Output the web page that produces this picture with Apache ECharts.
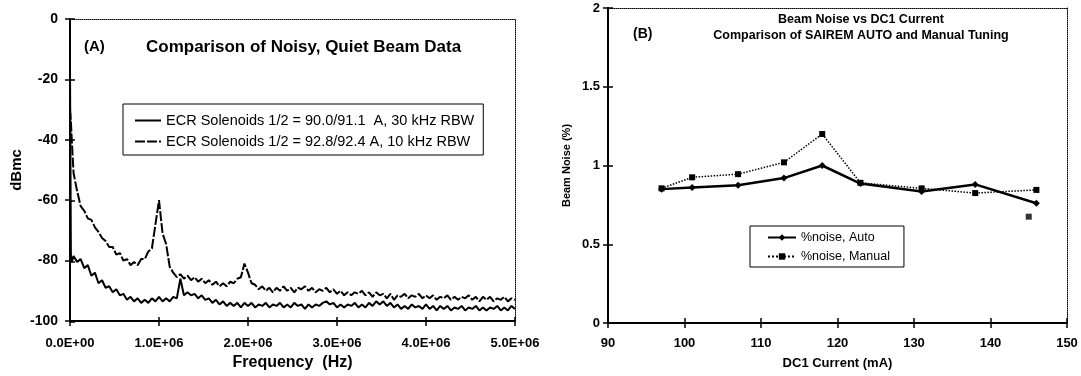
<!DOCTYPE html>
<html>
<head>
<meta charset="utf-8">
<script src="https://cdn.jsdelivr.net/npm/echarts@6/dist/echarts.min.js"></script>
<style>
  html, body { margin: 0; padding: 0; background: #fff; }
  #chart { width: 1081px; height: 376px; }
</style>
</head>
<body>
<div id="chart"></div>
<script>
// (A) spectrum traces, frequency in MHz, level in dBmc
const freqMHz = [0, 0.01, 0.02, 0.04, 0.08, 0.12, 0.16, 0.2, 0.24, 0.28, 0.32, 0.36, 0.4, 0.44, 0.48, 0.52,
  0.56, 0.6, 0.64, 0.68, 0.72, 0.76, 0.8, 0.84, 0.88, 0.92, 0.96, 1, 1.04, 1.08, 1.12, 1.16, 1.2, 1.24,
  1.28, 1.32, 1.36, 1.4, 1.44, 1.48, 1.52, 1.56, 1.6, 1.64, 1.68, 1.72, 1.76, 1.8, 1.84, 1.88, 1.92, 1.96,
  2, 2.04, 2.08, 2.12, 2.16, 2.2, 2.24, 2.28, 2.32, 2.36, 2.4, 2.44, 2.48, 2.52, 2.56, 2.6, 2.64, 2.68,
  2.72, 2.76, 2.8, 2.84, 2.88, 2.92, 2.96, 3, 3.04, 3.08, 3.12, 3.16, 3.2, 3.24, 3.28, 3.32, 3.36, 3.4,
  3.44, 3.48, 3.52, 3.56, 3.6, 3.64, 3.68, 3.72, 3.76, 3.8, 3.84, 3.88, 3.92, 3.96, 4, 4.04, 4.08, 4.12,
  4.16, 4.2, 4.24, 4.28, 4.32, 4.36, 4.4, 4.44, 4.48, 4.52, 4.56, 4.6, 4.64, 4.68, 4.72, 4.76, 4.8, 4.84,
  4.88, 4.92, 4.96, 5]

// solid trace: 90.0/91.1 A, 30 kHz RBW
const quietDb = [-16, -78, -80.5, -78.5, -80.5, -79.5, -82.5, -81.5, -85, -84, -87.5, -86.5, -89, -88.5, -90.5, -89.5,
  -91.5, -91, -93, -92, -93.5, -92.5, -94, -93, -94, -92.5, -93.5, -92, -93.5, -92.5, -93.5, -92, -92.5, -86,
  -91.5, -90.5, -91.5, -91, -92.5, -91.5, -93, -92.5, -94, -93, -94.5, -93.5, -95, -94, -95, -94, -95.5, -94,
  -95, -94, -95.5, -94.5, -95, -94, -95.5, -94.5, -95, -94, -95.5, -94.5, -95.5, -94, -95, -94.5, -96, -94.5,
  -95.5, -94.5, -95, -94, -93.5, -94.5, -94, -95.5, -94.5, -95.5, -94.5, -95, -94, -95.5, -94.5, -95.5, -94, -95,
  -93.5, -94.5, -93.5, -95, -94, -95.5, -94.5, -96, -95, -96, -94.5, -95.5, -95, -96, -94.5, -96, -95, -96.5,
  -95, -96, -95, -96.5, -95.5, -96, -95, -96.5, -95.5, -96, -95, -96.5, -95.5, -96.5, -95.5, -96, -95, -96.5,
  -95.5, -96.5, -95, -96]

// dashed trace: 92.8/92.4 A, 10 kHz RBW
const noisyDb = [-30, -34, -40, -51, -57, -62, -63.5, -66, -66.5, -69, -70.5, -72.5, -73.5, -75.5, -75.5, -78,
  -77.5, -80, -79.5, -81.5, -80.5, -81.5, -79.5, -79.5, -77, -76, -68, -60, -71, -74.5, -82, -84, -85.5, -84.5,
  -86, -85, -86.5, -85.5, -87, -86, -87.5, -86.5, -88, -87, -88.5, -87.5, -88.5, -87, -87.5, -86, -85.5, -81,
  -84, -87.5, -88, -89.5, -88.5, -90, -89, -90.5, -89, -90, -88.5, -90, -89, -90.5, -89, -89.5, -88.5, -90,
  -89, -90.5, -89.5, -90, -89, -90.5, -89.5, -91, -90, -91.5, -90.5, -91.5, -90.5, -91, -90, -91.5, -90.5, -92,
  -90.5, -91.5, -91, -92.5, -91, -93, -91.5, -92, -91, -92.5, -91.5, -92, -91, -92.5, -91.5, -92.5, -91.5, -93,
  -92, -92.5, -91.5, -93, -92, -93, -92, -92.5, -91.5, -93, -92, -93.5, -92, -93, -92, -93.5, -92.5, -93,
  -92, -93.5, -92.5, -93]

const dbTicks = [-100, -80, -60, -40, -20, 0]

// (B) beam noise vs DC1 current
const currentMA = [97, 101, 107, 113, 118, 123, 131, 138, 146]
const noiseAuto = [0.85, 0.86, 0.875, 0.92, 1.0, 0.885, 0.835, 0.88, 0.76]
const noiseManual = [0.855, 0.925, 0.945, 1.02, 1.2, 0.89, 0.855, 0.825, 0.845]
const strayCurrent = [145]
const strayManual = [0.675]

const nameSolid = 'ECR Solenoids 1/2 = 90.0/91.1  A, 30 kHz RBW'
const nameDashed = 'ECR Solenoids 1/2 = 92.8/92.4 A, 10 kHz RBW'
const nameAuto = '%noise, Auto'
const nameManual = '%noise, Manual'

const font = '"Liberation Sans", Arial, sans-serif'
const txt = {color: '#000', fontFamily: font}

function sci(v) {
  if (v === 0) return '0.0E+00'
  const e = Math.floor(Math.log10(v) + 1e-9)
  return (v / Math.pow(10, e)).toFixed(1) + 'E+' + String(e).padStart(2, '0')
}

const gridA = {left: 70, top: 19, width: 445, height: 303}
const gridB = {left: 608, top: 8, width: 459, height: 315}

const mainLine = {onZero: false, lineStyle: {color: '#000', width: 2}}
const dotLine = {onZero: false, lineStyle: {color: '#000', width: 1, type: 'dotted'}}
const noLine = {show: false, onZero: false}
const outTick = {length: 5, lineStyle: {color: '#000', width: 1.5}}
const inTick = {inside: true, length: 5, lineStyle: {color: '#000', width: 1.5}}
const off = {show: false}

const chart = echarts.init(document.getElementById('chart'))

chart.setOption({
  backgroundColor: '#fff',
  animation: false,
  grid: [
    {...gridA}, {...gridB}, {...gridA}, {...gridB}
  ],
  xAxis: [
    {
      gridIndex: 0, type: 'value', min: 0, max: 5e6, interval: 1e6, position: 'bottom',
      axisLine: mainLine, axisTick: outTick, splitLine: off,
      axisLabel: {...txt, fontSize: 13, fontWeight: 'bold', margin: 16, formatter: sci},
      name: 'Frequency  (Hz)', nameLocation: 'middle', nameGap: 34,
      nameTextStyle: {...txt, fontSize: 16, fontWeight: 'bold'}
    },
    {gridIndex: 0, type: 'value', min: 0, max: 5e6, position: 'top', axisLine: dotLine, axisTick: off, axisLabel: off, splitLine: off},
    {
      gridIndex: 1, type: 'value', min: 90, max: 150, interval: 10, position: 'bottom',
      axisLine: mainLine, axisTick: outTick, splitLine: off,
      axisLabel: {...txt, fontSize: 13, fontWeight: 'bold', margin: 14},
      name: 'DC1 Current (mA)', nameLocation: 'middle', nameGap: 34,
      nameTextStyle: {...txt, fontSize: 13, fontWeight: 'bold'}
    },
    {gridIndex: 1, type: 'value', min: 90, max: 150, position: 'top', axisLine: dotLine, axisTick: off, axisLabel: off, splitLine: off},
    {gridIndex: 2, type: 'value', min: 0, max: 5e6, interval: 1e6, position: 'bottom', axisLine: noLine, axisTick: inTick, axisLabel: off, splitLine: off},
    {gridIndex: 3, type: 'value', min: 90, max: 150, interval: 10, position: 'bottom', axisLine: noLine, axisTick: inTick, axisLabel: off, splitLine: off}
  ],
  yAxis: [
    {
      gridIndex: 0, type: 'value', min: dbTicks[0], max: dbTicks[dbTicks.length - 1], interval: 20, position: 'left',
      axisLine: mainLine, axisTick: outTick, splitLine: off,
      axisLabel: {...txt, fontSize: 14, fontWeight: 'bold', margin: 12},
      name: 'dBmc', nameLocation: 'middle', nameGap: 46,
      nameTextStyle: {...txt, fontSize: 15, fontWeight: 'bold'}
    },
    {gridIndex: 0, type: 'value', min: -100, max: 0, position: 'right', axisLine: dotLine, axisTick: off, axisLabel: off, splitLine: off},
    {
      gridIndex: 1, type: 'value', min: 0, max: 2, interval: 0.5, position: 'left',
      axisLine: mainLine, axisTick: outTick, splitLine: off,
      axisLabel: {...txt, fontSize: 13, fontWeight: 'bold', margin: 8},
      name: 'Beam Noise (%)', nameLocation: 'middle', nameGap: 36,
      nameTextStyle: {...txt, fontSize: 11, fontWeight: 'bold'}
    },
    {gridIndex: 1, type: 'value', min: 0, max: 2, position: 'right', axisLine: dotLine, axisTick: off, axisLabel: off, splitLine: off},
    {gridIndex: 2, type: 'value', min: -100, max: 0, interval: 20, position: 'left', axisLine: noLine, axisTick: inTick, axisLabel: off, splitLine: off},
    {gridIndex: 3, type: 'value', min: 0, max: 2, interval: 0.5, position: 'left', axisLine: noLine, axisTick: inTick, axisLabel: off, splitLine: off}
  ],
  legend: [
    {
      data: [nameSolid, nameDashed], orient: 'vertical', left: 123, top: 104,
      padding: [9, 9, 6, 11], itemWidth: 26, itemHeight: 14, itemGap: 6,
      borderColor: '#000', borderWidth: 1, selectedMode: false,
      itemStyle: {opacity: 0},
      textStyle: {...txt, fontSize: 14.5}
    },
    {
      data: [nameAuto, nameManual], orient: 'vertical', left: 750, top: 226,
      padding: [5, 14, 4, 17], itemWidth: 28, itemHeight: 8, itemGap: 6,
      borderColor: '#000', borderWidth: 1, selectedMode: false,
      textStyle: {...txt, fontSize: 12.5}
    }
  ],
  graphic: [
    {type: 'text', x: 84, y: 47, style: {text: '(A)', font: 'bold 15px ' + font, fill: '#000', verticalAlign: 'middle'}},
    {type: 'text', x: 146, y: 47, style: {text: 'Comparison of Noisy, Quiet Beam Data', font: 'bold 17px ' + font, fill: '#000', verticalAlign: 'middle'}},
    {type: 'text', x: 633, y: 34, style: {text: '(B)', font: 'bold 14px ' + font, fill: '#000', verticalAlign: 'middle'}},
    {type: 'text', x: 861, y: 20, style: {text: 'Beam Noise vs DC1 Current', font: 'bold 12.5px ' + font, fill: '#000', align: 'center', verticalAlign: 'middle'}},
    {type: 'text', x: 861, y: 36, style: {text: 'Comparison of SAIREM AUTO and Manual Tuning', font: 'bold 12.5px ' + font, fill: '#000', align: 'center', verticalAlign: 'middle'}}
  ],
  series: [
    {
      name: nameSolid, type: 'line', xAxisIndex: 0, yAxisIndex: 0,
      data: freqMHz.map((f, i) => [f * 1e6, quietDb[i]]),
      symbol: 'none', lineStyle: {color: '#000', width: 2}, itemStyle: {color: '#000'}
    },
    {
      name: nameDashed, type: 'line', xAxisIndex: 0, yAxisIndex: 0,
      data: freqMHz.map((f, i) => [f * 1e6, noisyDb[i]]),
      symbol: 'none', lineStyle: {color: '#000', width: 2, type: [10, 2]}, itemStyle: {color: '#000'}
    },
    {
      name: nameAuto, type: 'line', xAxisIndex: 2, yAxisIndex: 2,
      data: currentMA.map((c, i) => [c, noiseAuto[i]]),
      symbol: 'diamond', symbolSize: 7, lineStyle: {color: '#000', width: 2.5}, itemStyle: {color: '#000'}
    },
    {
      name: nameManual, type: 'line', xAxisIndex: 2, yAxisIndex: 2,
      data: currentMA.map((c, i) => [c, noiseManual[i]]),
      symbol: 'rect', symbolSize: 6, lineStyle: {color: '#000', width: 1.5, type: 'dotted'}, itemStyle: {color: '#000'}
    },
    {
      type: 'scatter', xAxisIndex: 2, yAxisIndex: 2,
      data: strayCurrent.map((c, i) => [c, strayManual[i]]),
      symbol: 'rect', symbolSize: 6, itemStyle: {color: '#000'}
    }
  ]
})
</script>
</body>
</html>
